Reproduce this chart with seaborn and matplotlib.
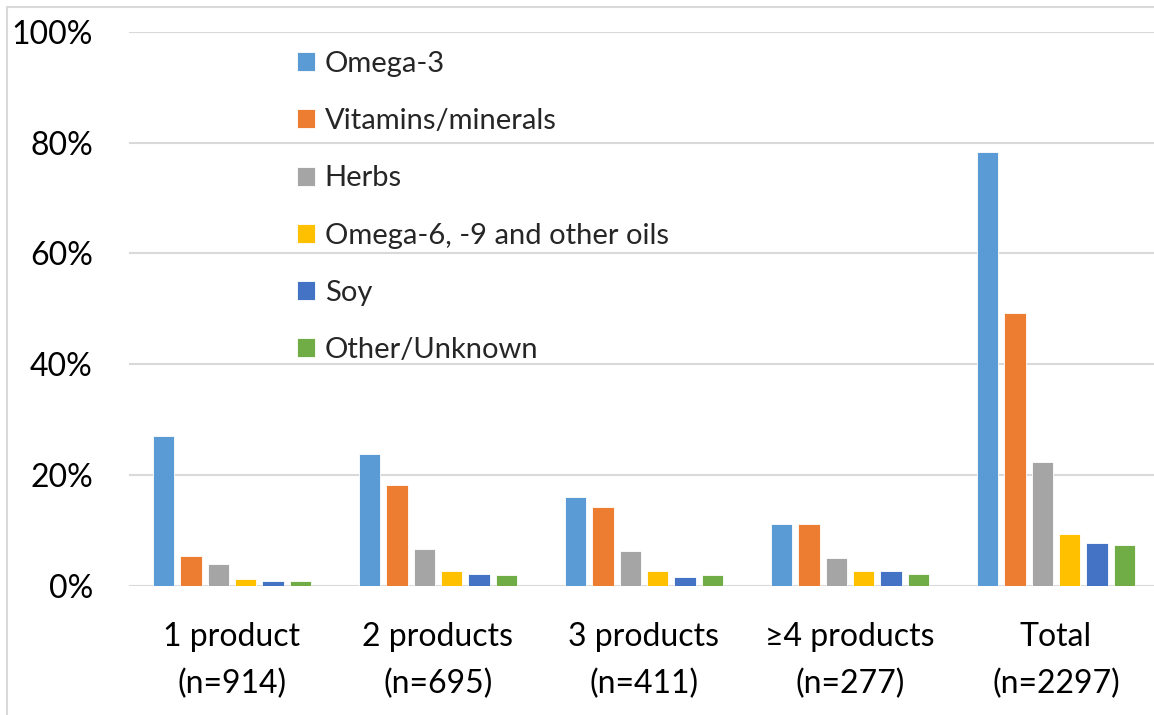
import pandas as pd
import numpy as np
import matplotlib
matplotlib.use("Agg")
import matplotlib.pyplot as plt
import seaborn as sns
from matplotlib.ticker import FuncFormatter
from matplotlib.lines import Line2D

# --- data (percent) ---
groups = ["1 product\n(n=914)", "2 products\n(n=695)", "3 products\n(n=411)",
          "\u22654 products\n(n=277)", "Total\n(n=2297)"]
series = ["Omega-3", "Vitamins/minerals", "Herbs",
          "Omega-6, -9 and other oils", "Soy", "Other/Unknown"]

omega3 = [27.0, 23.7, 16.0, 11.2, 78.4]
vitamins = [5.4, 18.2, 14.2, 11.1, 49.3]
herbs = [3.9, 6.7, 6.3, 5.0, 22.4]
omega6 = [1.2, 2.6, 2.6, 2.65, 9.3]
soy = [0.85, 2.2, 1.6, 2.65, 7.7]
other = [0.8, 1.9, 2.0, 2.06, 7.3]

colors = ["#5B9BD5", "#ED7D31", "#A5A5A5", "#FFC000", "#4472C4", "#70AD47"]

# long table for seaborn
df = pd.DataFrame({"group": groups, "Omega-3": omega3, "Vitamins/minerals": vitamins,
                   "Herbs": herbs, "Omega-6, -9 and other oils": omega6,
                   "Soy": soy, "Other/Unknown": other})
long = df.melt(id_vars="group", var_name="type", value_name="pct")

sns.set_style("white")
plt.rcParams['font.family'] = ['Lato', 'DejaVu Sans']

fig = plt.figure(figsize=(11.54, 7.15), dpi=100)
ax = fig.add_axes([129 / 1154, 1 - 585.7 / 715, 1030 / 1154, (585.7 - 32) / 715])

sns.barplot(data=long, x="group", y="pct", hue="type", order=groups, hue_order=series,
            palette=colors, width=0.8, gap=0.22, ax=ax, saturation=1,
            edgecolor="white", linewidth=0.6)

ax.set_ylim(0, 100)
ax.set_yticks([0, 20, 40, 60, 80, 100])
ax.yaxis.set_major_formatter(FuncFormatter(lambda v, p: f"{v:.0f}%"))
ax.grid(axis="y", color="#d9d9d9", linewidth=1.5)
ax.set_axisbelow(True)
for s in ax.spines.values():
    s.set_visible(False)
ax.set_xlabel("")
ax.set_ylabel("")
ax.tick_params(axis="y", length=0, pad=26, labelsize=23, labelcolor="black")
ax.tick_params(axis="x", length=0, pad=26, labelsize=23, labelcolor="black")
for t in ax.get_xticklabels():
    t.set_linespacing(1.7)

ax.legend(loc="upper left", bbox_to_anchor=(297 / 1154, 1 - 51 / 715),
          bbox_transform=fig.transFigure, frameon=False, fontsize=21,
          handlelength=0.62, handleheight=0.62, handletextpad=0.33,
          labelspacing=1.07, borderpad=0, borderaxespad=0)

# light frame on the left and top edge of the chart area
fig.add_artist(Line2D([7 / 1154, 7 / 1154], [0, 1 - 7 / 715], transform=fig.transFigure,
                      color="#d9d9d9", linewidth=1.5))
fig.add_artist(Line2D([7 / 1154, 1], [1 - 7 / 715, 1 - 7 / 715], transform=fig.transFigure,
                      color="#d9d9d9", linewidth=1.5))

fig.savefig("out.png", dpi=100)
